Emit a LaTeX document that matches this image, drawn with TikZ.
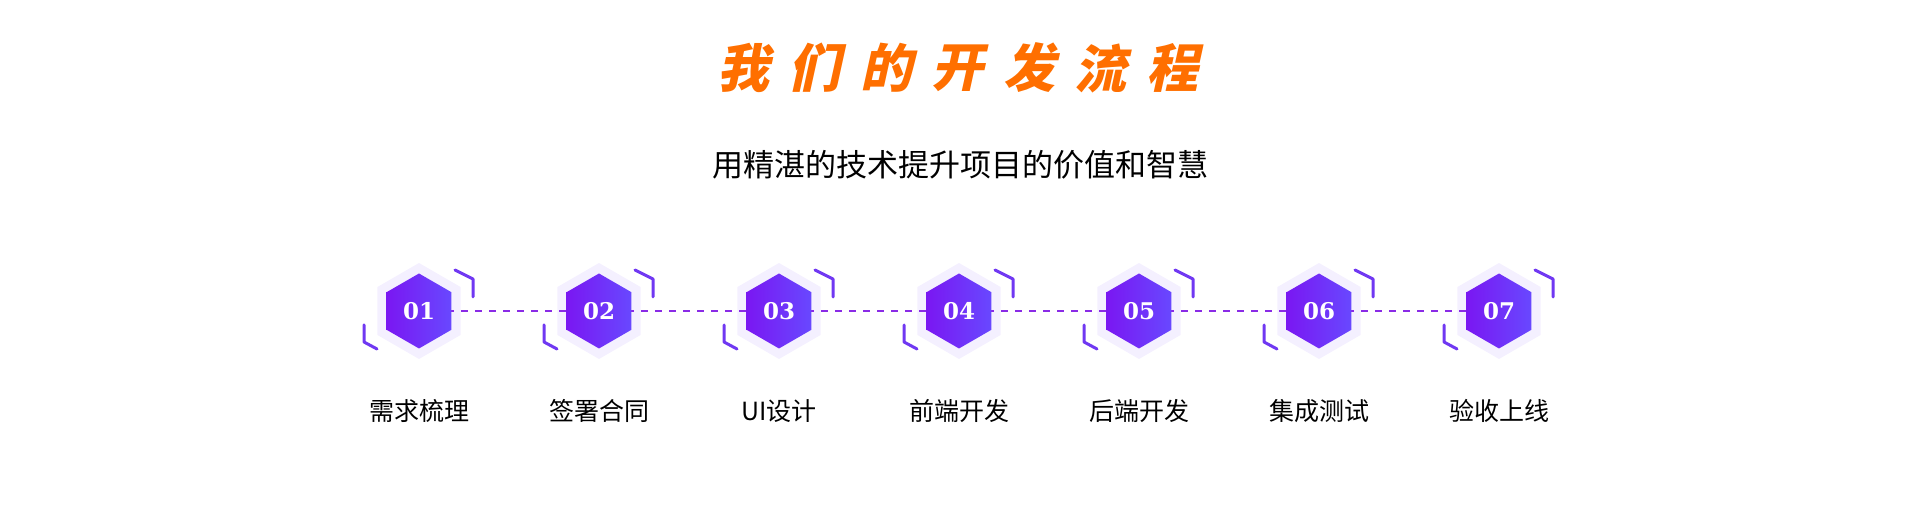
\documentclass[tikz,border=0pt]{standalone}
\usepackage{fontspec}
\newfontfamily\cjk{Noto Sans CJK SC}
\newfontfamily\cjktitle[FakeSlant=0.22]{Noto Sans CJK SC Black}
\newfontfamily\numfont{DejaVu Serif}
\usetikzlibrary{shapes.geometric}
\definecolor{titleorange}{HTML}{FF6F00}
\definecolor{hexleft}{HTML}{7A17F2}
\definecolor{hexright}{HTML}{6848FF}
\definecolor{hexhalo}{HTML}{F4F0FF}
\definecolor{dashviolet}{HTML}{8A2BE6}
\definecolor{bracketviolet}{HTML}{7038F2}
\tikzset{
  halo/.style={regular polygon, regular polygon sides=6, shape border rotate=90, minimum size=96pt, inner sep=0pt, fill=hexhalo},
  hexcore/.style={regular polygon, regular polygon sides=6, shape border rotate=90, minimum size=75pt, inner sep=0pt,
    left color=hexleft, right color=hexright, text=white, font=\numfont\bfseries\fontsize{23}{23}\selectfont},
  steplabel/.style={font=\cjk\fontsize{25}{25}\selectfont},
  linkline/.style={dashviolet, line width=2pt, dash pattern=on 7pt off 7pt},
  bracket/.style={bracketviolet, line width=3pt, line cap=round, line join=round}
}
\begin{document}
\begin{tikzpicture}[x=1pt,y=1pt]
	\useasboundingbox (0,0) rectangle (1920,518);

	% title
	\foreach \c [count=\i from 0] in {我,们,的,开,发,流,程}
		\node[text=titleorange, font=\cjktitle\fontsize{52}{52}\selectfont] (t\i) at (743+\i*71.5,450) {\c};
	\node[font=\cjk\fontsize{31}{31}\selectfont] (subtitle) at (960,353) {用精湛的技术提升项目的价值和智慧};

	% halos and brackets
	\foreach \i in {1,...,7} {
		\node[halo] (g\i) at (419+\i*180-180,207) {};
		\draw[bracket] ([shift={(36,41)}]g\i.center) -- ++(18,-9) -- ++(0,-18);
		\draw[bracket] ([shift={(-55,-14)}]g\i.center) -- ++(0,-17) -- ++(13,-7);
	}

	% dashed links
	\foreach \i [evaluate=\i as \j using int(\i+1)] in {1,...,6}
		\draw[linkline] (g\i.center) -- (g\j.center);

	% cores and labels
	\foreach \i/\txt in {1/需求梳理,2/签署合同,3/UI设计,4/前端开发,5/后端开发,6/集成测试,7/验收上线} {
		\node[hexcore] (h\i) at (g\i.center) {0\i};
		\node[steplabel] (l\i) at ([yshift=-100]h\i.center) {\txt};
	}

\end{tikzpicture}
\end{document}
